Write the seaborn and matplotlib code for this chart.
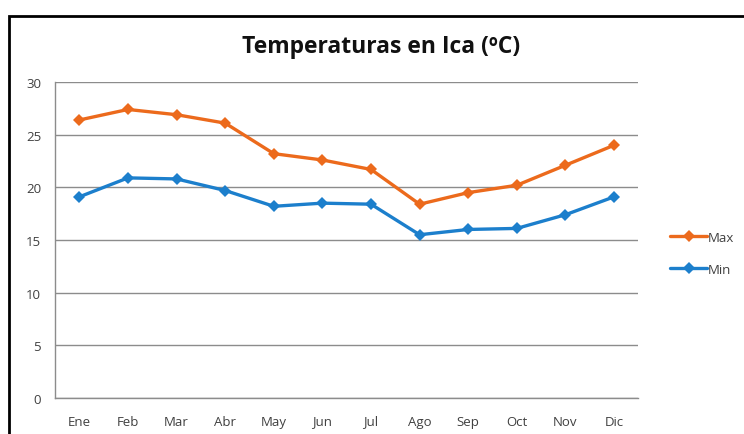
import matplotlib
matplotlib.use('Agg')
import matplotlib.pyplot as plt
import matplotlib.patches as mpatches
import seaborn as sns
import pandas as pd

months = ['Ene', 'Feb', 'Mar', 'Abr', 'May', 'Jun', 'Jul', 'Ago', 'Sep', 'Oct', 'Nov', 'Dic']
t_max = [26.4, 27.4, 26.9, 26.1, 23.2, 22.6, 21.7, 18.4, 19.5, 20.2, 22.1, 24.0]
t_min = [19.1, 20.9, 20.8, 19.7, 18.2, 18.5, 18.4, 15.5, 16.0, 16.1, 17.4, 19.1]
y_ticks = [0, 5, 10, 15, 20, 25, 30]

df = pd.DataFrame({'Mes': months * 2,
                   'Temp': t_max + t_min,
                   'Serie': ['Max'] * 12 + ['Min'] * 12})

sns.set_style('white')
plt.rcParams['font.family'] = ['Open Sans', 'DejaVu Sans']

fig = plt.figure(figsize=(7.44, 4.35), dpi=100)
ax = fig.add_axes([0.074, 0.083, 0.784, 0.726])

palette = {'Max': '#EC6A1C', 'Min': '#1C7FCC'}
sns.lineplot(data=df, x='Mes', y='Temp', hue='Serie', palette=palette,
             marker='D', markersize=6.5, markeredgewidth=0, linewidth=2.4,
             sort=False, ax=ax)

ax.set_xlim(-0.5, len(months) - 0.5)
ax.set_ylim(0, 30)
ax.set_yticks(y_ticks)
ax.set_xticks(range(len(months)))
ax.set_xticklabels(months)
ax.set_xticks([i - 0.5 for i in range(len(months) + 1)], minor=True)
ax.tick_params(axis='x', which='major', length=0, pad=12, labelsize=9.5, colors='#404040')
ax.tick_params(axis='x', which='minor', length=4, direction='out', color='#888888', width=1)
ax.tick_params(axis='y', length=4, direction='out', labelsize=9.5, pad=6)
ax.tick_params(axis='y', colors='#888888', labelcolor='#404040')
ax.yaxis.grid(True, color='#8c8c8c', linewidth=1)
ax.set_axisbelow(True)
for s in ['top', 'right']:
    ax.spines[s].set_visible(False)
for s in ['left', 'bottom']:
    ax.spines[s].set_color('#8c8c8c')
    ax.spines[s].set_linewidth(1)
ax.set_xlabel('')
ax.set_ylabel('')

handles, labels = ax.get_legend_handles_labels()
ax.get_legend().remove()
fig.legend(handles, labels, loc='center left', bbox_to_anchor=(0.885, 0.415),
           frameon=False, fontsize=9.5, handlelength=2.8, handletextpad=0.05,
           labelspacing=1.45, labelcolor='#404040')

fig.text(0.512, 0.892, 'Temperaturas en Ica (ºC)', ha='center', va='center',
         fontsize=16.5, fontweight='bold', color='#111111')

# outer chart frame (cropped at right/bottom)
fig.patches.append(mpatches.Rectangle((0.0125, -0.1), 1.2, 1.062, transform=fig.transFigure,
                                      fill=False, edgecolor='black', linewidth=2))

fig.savefig('out.png', dpi=100)
